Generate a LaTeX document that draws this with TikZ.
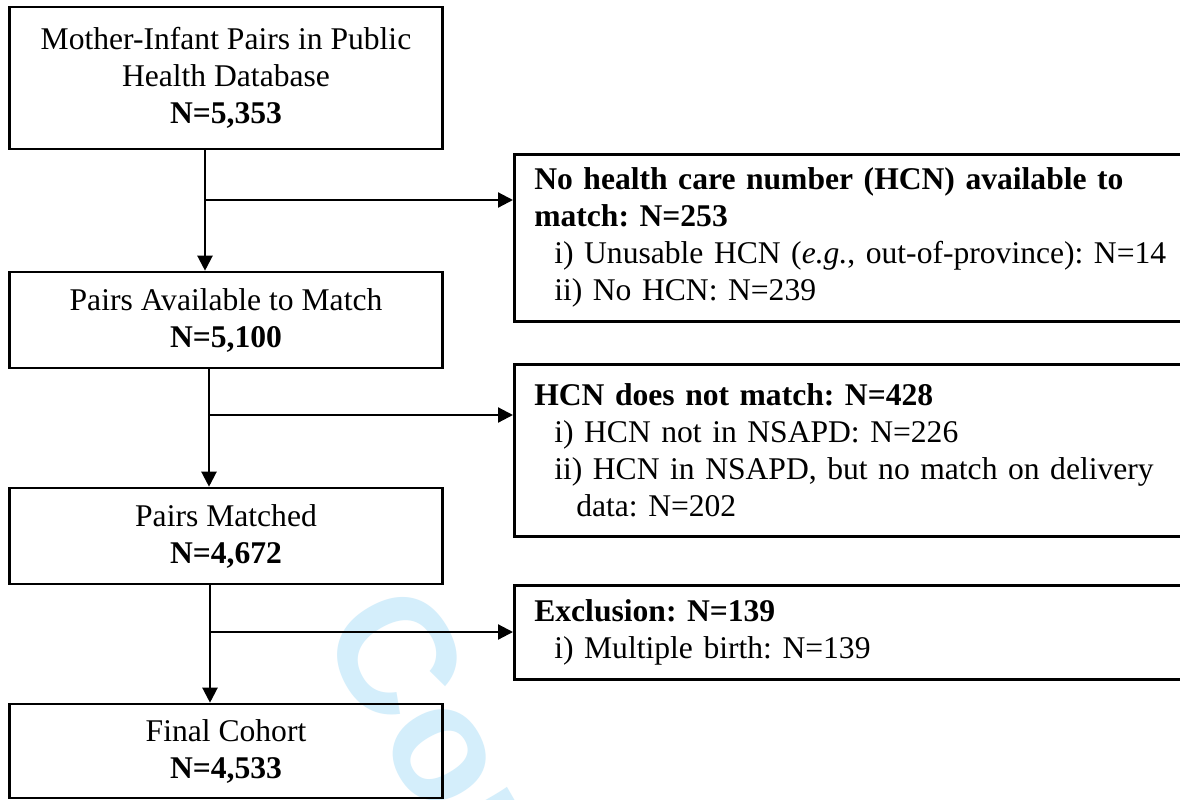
\documentclass[tikz,border=0pt]{standalone}
\usepackage{fontspec}
\setmainfont{Liberation Serif}
\newfontfamily\wmfont{Liberation Sans}
\usetikzlibrary{arrows.meta}
\definecolor{wmcyan}{RGB}{212,238,251}
\frenchspacing
\tikzset{
  x=1pt, y=-1pt,
  every node/.style={font=\fontsize{31.6}{37}\selectfont\frenchspacing},
  mainbox/.style={draw, line width=2.6pt, minimum width=433pt, align=center, inner sep=0pt},
  sidebox/.style={draw, line width=2.6pt, anchor=north west, minimum width=690pt, text width=650pt, align=left, inner xsep=20pt, inner ysep=0pt},
  flow/.style={line width=2.2pt, -{Triangle[length=15pt,width=15pt]}},
  wm/.style={text=wmcyan, font=\wmfont\bfseries\fontsize{165}{165}\selectfont, rotate=-60, anchor=west}
}
\begin{document}
\begin{tikzpicture}
\useasboundingbox (0,0) rectangle (1180,800);
\fill[white] (0,0) rectangle (1180,800);
% watermark
\node[wm] (wmark) at (366,598) {Confidential};
% main boxes
\node[mainbox, minimum height=142pt] (b1) at (226,78) {Mother-Infant Pairs in Public\\Health Database\\\textbf{N=5,353}};
\node[mainbox, minimum height=96pt] (b2) at (226,320) {Pairs Available to Match\\\textbf{N=5,100}};
\node[mainbox, minimum height=96pt] (b3) at (226,536) {Pairs Matched\\\textbf{N=4,672}};
\node[mainbox, minimum height=94pt] (b4) at (226,751) {Final Cohort\\\textbf{N=4,533}};
% side boxes
\node[sidebox, minimum height=167pt] (s1) at (513,153) {\textbf{No health care number (HCN) available to}\\\textbf{match: N=253}\\\hspace*{20pt}i) Unusable HCN (\textit{e.g.}, out-of-province): N=14\\\hspace*{20pt}ii) No HCN: N=239};
\node[sidebox, minimum height=172pt] (s2) at (513,363) {\textbf{HCN does not match: N=428}\\\hspace*{20pt}i) HCN not in NSAPD: N=226\\\hspace*{20pt}ii) HCN in NSAPD, but no match on delivery\\\hspace*{42pt}data: N=202};
\node[sidebox, minimum height=94pt] (s3) at (513,584) {\textbf{Exclusion: N=139}\\\hspace*{20pt}i) Multiple birth: N=139};
% junctions
\coordinate (j1) at ([xshift=-21pt]b1.south |- 0,200);
\coordinate (j2) at ([xshift=-17pt]b2.south |- 0,415);
\coordinate (j3) at ([xshift=-16pt]b3.south |- 0,632);
% connectors
\draw[flow] ([xshift=-21pt]b1.south) -- ([xshift=-21pt]b2.north);
\draw[flow] (j1) -- (j1 -| s1.west);
\draw[flow] ([xshift=-17pt]b2.south) -- ([xshift=-17pt]b3.north);
\draw[flow] (j2) -- (j2 -| s2.west);
\draw[flow] ([xshift=-16pt]b3.south) -- ([xshift=-16pt]b4.north);
\draw[flow] (j3) -- (j3 -| s3.west);
\end{tikzpicture}
\end{document}
